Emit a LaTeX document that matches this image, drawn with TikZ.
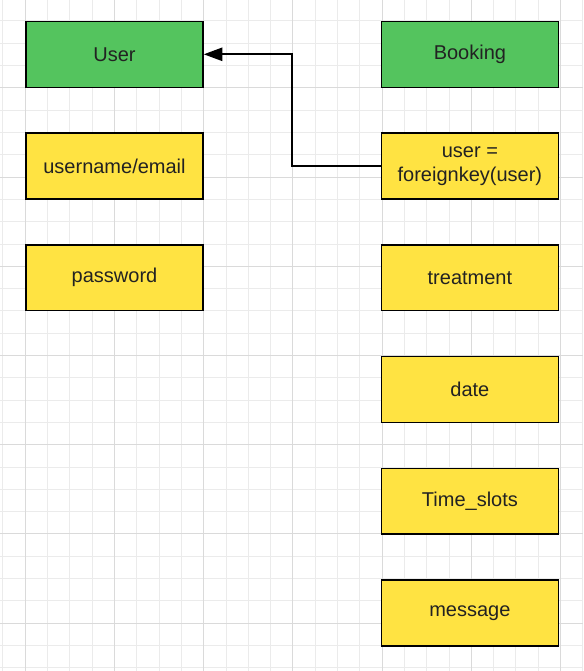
\documentclass[tikz,border=0pt]{standalone}
\usepackage{fontspec}
\setmainfont{Liberation Sans}
\usetikzlibrary{arrows.meta,positioning}

\definecolor{tblgreen}{HTML}{54C45E}
\definecolor{fldyellow}{HTML}{FFE342}
\definecolor{gridminor}{HTML}{EBEBEB}
\definecolor{gridmajor}{HTML}{DADADA}
\definecolor{txtdark}{HTML}{222222}

\begin{document}
\begin{tikzpicture}[
  x=0.75pt, y=0.75pt,
  font=\fontsize{15}{17.5}\selectfont,
  node distance=33.3pt,
  box/.style={draw=black, line width=1.1pt, align=center, text=txtdark,
    minimum width=132.8pt, minimum height=49.4pt, inner sep=2pt},
  tbl/.style={box, fill=tblgreen},
  fld/.style={box, fill=fldyellow},
  arr/.style={-{Triangle[length=14pt,width=10pt]}, line width=1.3pt}
]

% --- background grid ---
\useasboundingbox (-25.3,-583.1) rectangle (557.7,87.9);
\fill[white] (-25.3,-583.1) rectangle (557.7,87.9);
\draw[gridminor, line width=0.75pt, step=22.3] (-25.3,-583.1) grid (557.7,87.9);
\draw[gridmajor, line width=0.75pt, step=89.2] (-25.3,-583.1) grid (557.7,87.9);

% --- User table ---
\node[tbl] (user) at (89.2,33.6) {User};
\node[fld, below=of user] (uname) {username/email};
\node[fld, below=of uname] (pwd) {password};

% --- Booking table ---
\node[tbl] (booking) at (444.6,33.6) {Booking};
\node[fld, below=of booking] (fkuser) {user =\\foreignkey(user)};
\node[fld, below=of fkuser] (treat) {treatment};
\node[fld, below=of treat] (date) {date};
\node[fld, below=of date] (slots) {Time\_slots};
\node[fld, below=of slots] (msg) {message};

% --- relation ---
\draw[arr] (fkuser.west) -- ++(-88.5,0) |- (user.east);

\end{tikzpicture}
\end{document}
